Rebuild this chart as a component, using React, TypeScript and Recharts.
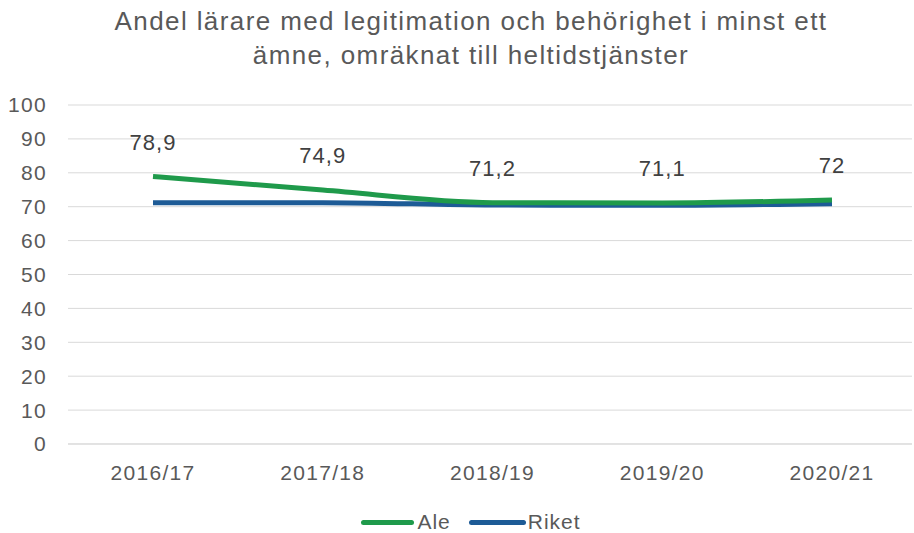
import React from 'react';
import { LineChart, Line, XAxis, YAxis, CartesianGrid, Legend, LabelList } from 'recharts';

const years = ['2016/17', '2017/18', '2018/19', '2019/20', '2020/21'];
const ale = [78.9, 74.9, 71.2, 71.1, 72];
const riket = [71.2, 71.2, 70.5, 70.4, 70.9];
const yTicks = [0, 10, 20, 30, 40, 50, 60, 70, 80, 90, 100];

const data = years.map((year, i) => ({ year, Ale: ale[i], Riket: riket[i] }));

const FONT = '"Liberation Sans", Arial, sans-serif';
const GREEN = '#1f9a4b';
const BLUE = '#1d5b96';
const TEXT = '#595959';

const LegendContent = () => (
    <div style={{ display: 'flex', justifyContent: 'center', alignItems: 'center', fontFamily: FONT, fontSize: 21, letterSpacing: 1, color: TEXT, paddingLeft: 30 }}>
        <span style={{ display: 'inline-block', width: 53, height: 5, borderRadius: 3, background: GREEN, marginRight: 3 }} />
        <span style={{ marginRight: 18 }}>Ale</span>
        <span style={{ display: 'inline-block', width: 57, height: 5, borderRadius: 3, background: BLUE, marginRight: 2 }} />
        <span>Riket</span>
    </div>
);

export default function App() {
    return (
        <div style={{ position: 'absolute', left: 0, top: 0, width: 914, height: 533, background: '#fff', fontFamily: FONT }}>
            <div style={{ position: 'absolute', left: 0, top: 4, width: 942, textAlign: 'center', fontSize: 26, letterSpacing: 1.4, lineHeight: '34px', color: TEXT }}>
                Andel lärare med legitimation och behörighet i minst ett<br />ämne, omräknat till heltidstjänster
            </div>
            <LineChart width={914} height={533} data={data} margin={{ top: 105, right: 2, left: 0, bottom: 19 }}>
                <CartesianGrid vertical={false} stroke="#d9d9d9" />
                <XAxis
                    dataKey="year"
                    axisLine={{ stroke: '#d9d9d9' }}
                    tickLine={false}
                    tickMargin={15}
                    height={40}
                    padding={{ left: 85, right: 80 }}
                    tick={{ fill: TEXT, fontSize: 21, letterSpacing: 1.3, fontFamily: FONT }}
                />
                <YAxis
                    domain={[0, 100]}
                    ticks={yTicks}
                    interval={0}
                    width={68}
                    axisLine={false}
                    tickLine={false}
                    tickMargin={15}
                    tick={{ fill: TEXT, fontSize: 21, letterSpacing: 1.3, fontFamily: FONT }}
                />
                <Legend verticalAlign="bottom" height={30} content={<LegendContent />} wrapperStyle={{ top: 510 }} />
                <Line type="monotone" dataKey="Riket" stroke={BLUE} strokeWidth={5} dot={false} isAnimationActive={false} />
                <Line type="monotone" dataKey="Ale" stroke={GREEN} strokeWidth={5} dot={false} isAnimationActive={false}>
                    <LabelList dataKey="Ale" position="top" offset={27} formatter={(v: number) => String(v).replace('.', ',')} fill="#404040" fontSize={22} letterSpacing={1} fontFamily={FONT} />
                </Line>
            </LineChart>
        </div>
    );
}
